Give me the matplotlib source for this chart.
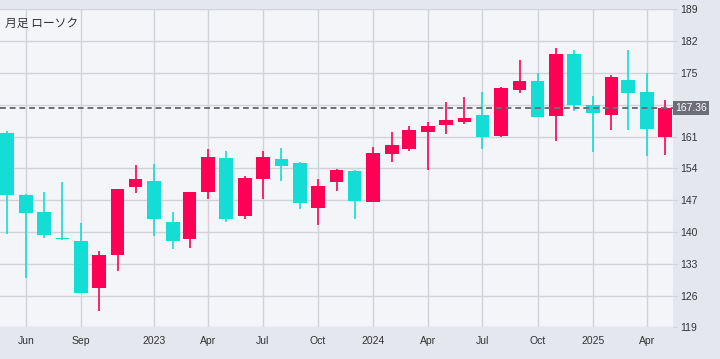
import matplotlib
matplotlib.use("Agg")
import matplotlib.pyplot as plt
import pandas as pd

# monthly candles, May 2022 .. May 2025
months = pd.date_range("2022-05-01", "2025-05-01", freq="MS")
opens = [161.7, 148.2, 144.5, 138.6, 138.1, 127.7, 135.0, 149.8, 151.2, 142.3,
         138.4, 148.7, 156.2, 143.6, 151.7, 156.0, 155.2, 145.2, 150.9, 153.4,
         146.7, 157.1, 158.3, 162.0, 163.6, 164.2, 165.7, 161.1, 171.3, 173.3,
         165.5, 179.2, 168.0, 165.7, 173.5, 170.7, 160.9]
closes = [148.2, 144.1, 139.3, 138.4, 126.6, 135.0, 149.5, 151.7, 142.8, 138.0,
          148.9, 156.5, 142.8, 151.9, 156.5, 154.6, 146.3, 150.1, 153.6, 146.9,
          157.4, 159.1, 162.4, 163.3, 164.6, 165.0, 161.0, 171.6, 173.3, 165.3,
          179.2, 168.0, 166.2, 174.0, 170.6, 162.7, 167.36]
highs = [162.2, 148.3, 148.9, 150.9, 142.0, 135.9, 149.5, 154.7, 155.0, 144.5,
         148.9, 158.2, 157.8, 152.3, 157.8, 158.4, 155.3, 151.7, 153.9, 153.6,
         158.7, 161.9, 163.3, 164.2, 168.7, 169.6, 170.9, 171.9, 177.9, 174.9,
         180.5, 180.1, 170.0, 174.6, 180.1, 174.9, 169.0]
lows = [139.6, 129.9, 138.7, 138.3, 126.6, 122.6, 131.4, 148.5, 139.1, 136.2,
        136.5, 147.3, 142.3, 142.8, 147.3, 151.3, 145.1, 141.6, 149.0, 142.8,
        146.6, 155.3, 157.9, 153.7, 161.6, 163.8, 158.2, 161.0, 170.6, 165.3,
        160.1, 166.7, 157.6, 162.5, 162.5, 156.8, 157.0]
last_price = 167.36

tick_dates = pd.to_datetime(["2022-06-01", "2022-09-01", "2023-01-01", "2023-04-01",
                             "2023-07-01", "2023-10-01", "2024-01-01", "2024-04-01",
                             "2024-07-01", "2024-10-01", "2025-01-01", "2025-04-01"])
tick_labels = ["Jun", "Sep", "2023", "Apr", "Jul", "Oct", "2024", "Apr",
               "Jul", "Oct", "2025", "Apr"]
y_ticks = list(range(119, 190, 7))

UP = "#FF0055"
DOWN = "#13DDD4"
GRID = "#D0D2DA"

plt.rcParams['font.family'] = ['Liberation Sans', 'Noto Sans CJK JP']

fig = plt.figure(figsize=(7.2, 3.59), dpi=100, facecolor="#E4E7EE")
ax = fig.add_axes([0.0, 0.088, 0.935, 0.886])
ax.set_facecolor("#F4F5F8")

colors = [UP if c >= o else DOWN for o, c in zip(opens, closes)]
ax.vlines(months, lows, highs, colors=colors, linewidth=1.2, zorder=2)
bottoms = [min(o, c) for o, c in zip(opens, closes)]
heights = [max(abs(c - o), 0.15) for o, c in zip(opens, closes)]
ax.bar(months, heights, bottom=bottoms, width=23, color=colors, zorder=3)

ax.axhline(last_price, color="#6E6E76", linestyle=(0, (3, 2)), linewidth=1.4, zorder=4)

ax.set_xlim(pd.Timestamp("2022-04-19"), pd.Timestamp("2025-05-15"))
ax.set_ylim(119, 189)
ax.set_xticks(tick_dates)
ax.set_xticklabels(tick_labels)
ax.set_yticks(y_ticks)
ax.yaxis.tick_right()
ax.grid(True, color=GRID, linewidth=1, zorder=0)
ax.tick_params(axis="x", length=0, pad=6, labelsize=7.5, labelcolor="#333333")
ax.tick_params(axis="y", length=3, color=GRID, pad=2, labelsize=7.5, labelcolor="#333333")
for s in ax.spines.values():
    s.set_visible(False)

ax.text(1.003, last_price, f"{last_price:.2f}", transform=ax.get_yaxis_transform(),
        ha="left", va="center", fontsize=7.5, color="white", clip_on=False, zorder=10,
        bbox=dict(boxstyle="square,pad=0.2", facecolor="#6E6E76", edgecolor="none"))

ax.text(0.008, 0.955, "月足 ローソク", transform=ax.transAxes, ha="left", va="center",
        fontsize=8.5, color="#333333", family=['Noto Sans CJK JP', 'DejaVu Sans'])

fig.savefig("out.png", dpi=100, facecolor=fig.get_facecolor())
